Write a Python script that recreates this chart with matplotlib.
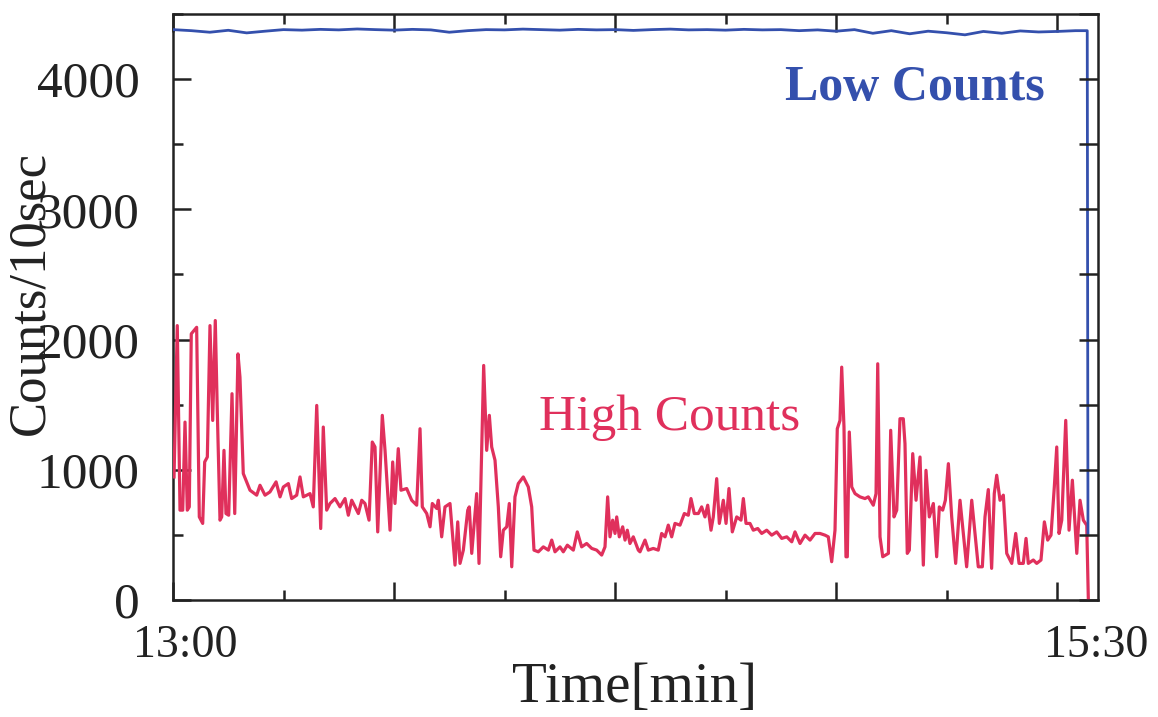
import matplotlib
matplotlib.use("Agg")
import matplotlib.pyplot as plt
from matplotlib.ticker import MultipleLocator

# High-count channel: minutes after 13:00 and counts per 10 s
high_t = [0.14, 0.58, 0.95, 1.32, 1.63, 1.94, 2.21, 2.48, 2.85, 3.21, 3.57, 4.03, 4.30, 4.66,
          5.02, 5.39, 5.74, 6.01, 6.38, 6.61, 6.92, 7.19, 7.56, 8.01, 8.38, 8.82, 9.09, 9.54,
          10.45, 11.36, 11.81, 12.49, 13.16, 13.99, 14.53, 14.98, 15.66, 16.11, 16.79, 17.24,
          17.69, 18.60, 19.04, 19.51, 20.05, 20.40, 20.86, 21.31, 21.99, 22.67, 23.35, 23.80,
          24.26, 24.71, 25.16, 25.62, 26.06, 26.61, 27.05, 27.42, 27.79, 28.41, 28.78, 29.46,
          29.82, 30.13, 30.58, 30.95, 31.72, 32.40, 33.08, 33.53, 33.84, 34.44, 34.89, 35.20,
          35.80, 36.02, 36.47, 36.92, 37.60, 38.28, 38.65, 38.96, 39.41, 40.01, 40.22, 40.55,
          41.22, 41.54, 42.17, 42.58, 42.94, 43.26, 43.71, 44.16, 44.48, 44.84, 45.30, 45.65,
          45.98, 46.42, 46.87, 47.55, 48.23, 48.69, 49.00, 49.59, 50.27, 50.95, 51.41, 51.85,
          52.53, 52.98, 53.53, 54.34, 54.88, 55.47, 56.15, 56.84, 57.51, 58.19, 58.64, 59.00,
          59.32, 59.68, 60.00, 60.23, 60.58, 61.04, 61.36, 61.67, 62.03, 62.48, 63.16, 63.39,
          64.07, 64.52, 65.19, 65.87, 66.33, 66.79, 67.23, 67.69, 68.14, 68.82, 69.41, 69.95,
          70.31, 70.76, 71.31, 71.76, 72.21, 72.58, 73.03, 73.34, 73.80, 74.16, 74.70, 75.07,
          75.47, 75.92, 76.52, 77.10, 77.42, 77.78, 78.32, 78.77, 79.37, 79.91, 80.59, 81.27,
          81.95, 82.63, 83.31, 83.99, 84.43, 85.11, 85.79, 86.47, 87.15, 87.82, 88.50, 88.95,
          89.41, 89.86, 90.17, 90.54, 90.77, 91.08, 91.35, 91.53, 91.80, 92.13, 92.58, 93.25,
          93.93, 94.38, 95.06, 95.43, 95.66, 95.97, 96.34, 97.11, 97.42, 97.87, 98.24, 98.68,
          99.13, 99.36, 99.67, 99.95, 100.41, 100.86, 101.40, 101.85, 102.21, 102.66, 103.21,
          103.66, 104.02, 104.48, 104.84, 105.25, 105.70, 106.24, 106.83, 107.28, 107.73,
          108.42, 108.86, 109.31, 109.86, 110.22, 110.67, 111.12, 111.48, 111.81, 112.26,
          112.71, 113.17, 113.85, 114.39, 114.84, 115.42, 115.79, 116.10, 116.78, 117.24,
          117.82, 118.28, 118.73, 119.18, 119.63, 119.96, 120.27, 120.64, 121.18, 121.63,
          122.08, 122.68, 123.12, 123.57, 124.03, 124.25]
high_counts = [945, 2107, 690, 690, 1366, 690, 715, 2044, 2070, 2094, 638, 588, 1060, 1098,
               2107, 1379, 2146, 1456, 613, 638, 1149, 664, 651, 1584, 664, 1890, 1711, 971,
               843, 805, 881, 805, 830, 907, 792, 868, 894, 779, 805, 945,
               792, 817, 715, 1494, 549, 1328, 690, 741, 779, 715, 779, 651,
               766, 715, 664, 766, 741, 613, 1213, 1175, 523, 1418, 1149, 536,
               1060, 741, 1162, 843, 856, 766, 728, 1315, 715, 664, 562, 741,
               703, 766, 485, 715, 741, 268, 600, 281, 383, 690, 715, 358,
               817, 281, 1801, 1149, 1418, 1175, 1073, 715, 332, 536, 562, 741,
               255, 792, 894, 945, 868, 715, 383, 370, 408, 383, 460, 370,
               408, 370, 421, 383, 523, 408, 434, 396, 383, 345, 408, 792,
               485, 613, 511, 638, 485, 562, 460, 536, 434, 485, 383, 370,
               460, 383, 396, 383, 511, 485, 575, 485, 588, 575, 664, 651,
               779, 664, 664, 715, 638, 728, 536, 638, 932, 588, 766, 588,
               856, 523, 638, 613, 779, 588, 588, 536, 549, 511, 536, 498,
               523, 473, 485, 447, 523, 434, 498, 460, 511, 511, 498, 485,
               294, 536, 1315, 1379, 1788, 1328, 332, 332, 1290, 868, 817, 792,
               779, 792, 728, 817, 1814, 485, 332, 358, 1303, 638, 690, 1392,
               1392, 1200, 358, 383, 1124, 766, 1098, 268, 996, 638, 741,
               332, 715, 690, 766, 1047, 638, 281, 766, 511, 255,
               766, 511, 255, 255, 638, 848, 243, 817, 958, 766,
               805, 358, 281, 511, 281, 281, 473, 281, 307, 281,
               307, 600, 460, 498, 868, 1175, 511, 613, 1379, 536,
               920, 358, 766, 613, 574, 0]

# Low-count channel: minutes after 13:00 and counts per 10 s
low_t = [0, 2.5, 5, 7.5, 10, 12.5, 15, 17.5, 20, 22.5, 25, 27.5, 30, 32.5, 35, 37.5, 40,
         42.5, 45, 47.5, 50, 52.5, 55, 57.5, 60, 62.5, 65, 67.5, 70, 72.5, 75, 77.5, 80,
         82.5, 85, 87.5, 90, 92.5, 95, 97.5, 100, 102.5, 105, 107.5, 110, 112.5, 115,
         117.5, 120, 122.5, 124.1, 124.2]
low_counts = [4380, 4372, 4360, 4375, 4355, 4368, 4380, 4376, 4382, 4378, 4385, 4380, 4376,
              4382, 4378, 4360, 4372, 4380, 4378, 4384, 4380, 4376, 4382, 4378, 4380, 4374,
              4380, 4384, 4378, 4380, 4376, 4382, 4378, 4380, 4372, 4378, 4368, 4380, 4352,
              4372, 4348, 4368, 4356, 4340, 4366, 4352, 4370, 4362, 4366, 4372, 4372, 513]

x_end = 125.56
y_max = 4500
time_labels = ["13:00", "15:30"]

SERIF = ["Liberation Serif", "DejaVu Serif"]
RED = "#e0305c"
BLUE = "#3450ad"
INK = "#222222"

plt.rcParams["font.family"] = SERIF

fig = plt.figure(figsize=(11.58, 7.17), dpi=100)
ax = fig.add_axes([173 / 1158, 1 - 600 / 717, 925 / 1158, 586 / 717])

ax.plot(high_t, high_counts, color=RED, lw=2.3, solid_joinstyle="round", zorder=3)
ax.plot(low_t, low_counts, color=BLUE, lw=2.0, solid_joinstyle="round", zorder=4)

ax.set_xlim(0, x_end)
ax.set_ylim(0, y_max)

for side in ax.spines.values():
    side.set_linewidth(1.8)
    side.set_color(INK)

ax.xaxis.set_major_locator(MultipleLocator(30))
ax.xaxis.set_minor_locator(MultipleLocator(15))
ax.yaxis.set_major_locator(MultipleLocator(1000))
ax.yaxis.set_minor_locator(MultipleLocator(500))
ax.tick_params(which="both", direction="in", top=True, right=False, color=INK, width=1.8)
ax.tick_params(which="major", length=13)
ax.tick_params(which="minor", length=7)
ax.tick_params(axis="x", labelbottom=False)
ax.tick_params(axis="y", labelsize=37, pad=24, labelcolor=INK)

# right-hand ticks, all the same length
ax_r = ax.twinx()
ax_r.set_ylim(0, y_max)
ax_r.yaxis.set_major_locator(MultipleLocator(500))
ax_r.tick_params(direction="in", length=14, width=1.8, color=INK, labelright=False)
for side in ax_r.spines.values():
    side.set_visible(False)

# clock-time labels at both ends of the time axis
ax.annotate(time_labels[0], xy=(0, 0), xycoords=("data", "axes fraction"),
            xytext=(9, -33), textcoords="offset points", ha="center", va="center",
            fontsize=33, color=INK)
ax.annotate(time_labels[1], xy=(x_end, 0), xycoords=("data", "axes fraction"),
            xytext=(-1, -33), textcoords="offset points", ha="center", va="center",
            fontsize=33, color=INK)

fig.text(635 / 1158, 1 - 688 / 717, "Time[min]", ha="center", va="center",
         fontsize=41, color=INK)
fig.text(30 / 1158, 1 - 293 / 717, "Counts/10sec", ha="center", va="center",
         rotation=90, fontsize=38, color=INK)

ax.text(915 / 1158, 1 - 88 / 717, "Low Counts", transform=fig.transFigure,
        ha="center", va="center", fontsize=36, color=BLUE, fontweight="bold")
ax.text(670 / 1158, 1 - 418 / 717, "High Counts", transform=fig.transFigure,
        ha="center", va="center", fontsize=37, color=RED)

fig.savefig("out.png", dpi=100)
